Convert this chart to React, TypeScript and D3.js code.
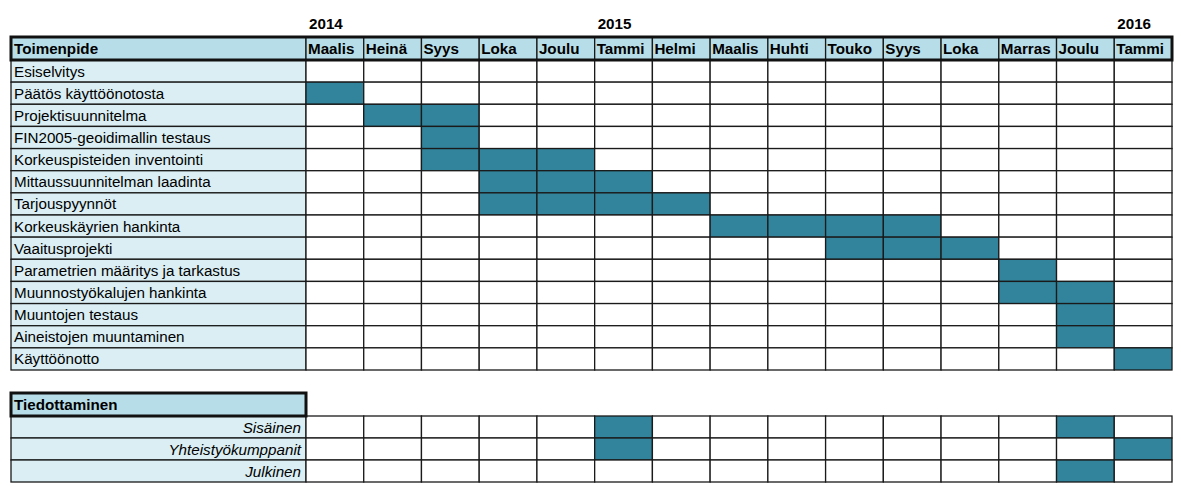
import React from "react";
import * as d3 from "d3";

const months = ["Maalis", "Heinä", "Syys", "Loka", "Joulu", "Tammi", "Helmi", "Maalis", "Huhti", "Touko", "Syys", "Loka", "Marras", "Joulu", "Tammi"];
const years = [
  { label: "2014", col: 0 },
  { label: "2015", col: 5 },
  { label: "2016", col: 14 },
];
const tasks = [
  "Esiselvitys",
  "Päätös käyttöönotosta",
  "Projektisuunnitelma",
  "FIN2005-geoidimallin testaus",
  "Korkeuspisteiden inventointi",
  "Mittaussuunnitelman laadinta",
  "Tarjouspyynnöt",
  "Korkeuskäyrien hankinta",
  "Vaaitusprojekti",
  "Parametrien määritys ja tarkastus",
  "Muunnostyökalujen hankinta",
  "Muuntojen testaus",
  "Aineistojen muuntaminen",
  "Käyttöönotto",
];
const taskActive: number[][] = [
  [],
  [0],
  [1, 2],
  [2],
  [2, 3, 4],
  [3, 4, 5],
  [3, 4, 5, 6],
  [7, 8, 9, 10],
  [9, 10, 11],
  [12],
  [12, 13],
  [13],
  [13],
  [14],
];
const commTitle = "Tiedottaminen";
const commItems = ["Sisäinen", "Yhteistyökumppanit", "Julkinen"];
const commActive: number[][] = [
  [5, 13],
  [5, 14],
  [13],
];
const headerTitle = "Toimenpide";

const TEAL = "#31849b";
const HEAD = "#b7dee8";
const LIGHT = "#daeef3";
const LINE = "#1a1a1a";
const FONT = "'Liberation Sans', Arial, sans-serif";
const FS = 15.2;

export default function App() {
  const W = 1181, H = 491;
  const labelX0 = 11, labelX1 = 306;
  const x = d3.scaleBand<number>().domain(months.map((_, i) => i)).range([306, 1172]).padding(0);
  const y = d3.scaleBand<string>().domain(tasks).range([60, 370]).padding(0);
  const yc = d3.scaleBand<string>().domain(commItems).range([416, 482]).padding(0);
  const headY0 = 37, headY1 = 60;
  const commHeadY0 = 393, commHeadY1 = 416;
  const bw = x.bandwidth();
  const sw = 1.3;

  const renderRows = (items: string[], ys: d3.ScaleBand<string>, active: number[][], italic: boolean) =>
    items.map((t, r) => {
      const yy = ys(t)!;
      const h = ys.bandwidth();
      return (
        <g key={t}>
          <rect x={labelX0} y={yy} width={labelX1 - labelX0} height={h} fill={LIGHT} stroke={LINE} strokeWidth={sw} />
          <text
            x={italic ? labelX1 - 5 : labelX0 + 3}
            y={yy + h / 2 + 5.5}
            fontSize={FS}
            fontStyle={italic ? "italic" : "normal"}
            textAnchor={italic ? "end" : "start"}
            fill="#000"
          >
            {t}
          </text>
          {months.map((_, c) => (
            <rect
              key={c}
              x={x(c)!}
              y={yy}
              width={bw}
              height={h}
              fill={active[r].includes(c) ? TEAL : "#fff"}
              stroke={LINE}
              strokeWidth={sw}
            />
          ))}
        </g>
      );
    });

  return (
    <svg width={W} height={H} style={{ position: "absolute", left: 0, top: 0, fontFamily: FONT }}>
      <rect width={W} height={H} fill="#fff" />
      {years.map((yr) => (
        <text key={yr.label} x={x(yr.col)! + 3} y={29} fontSize={FS} fontWeight="bold">
          {yr.label}
        </text>
      ))}
      {/* header row */}
      <rect x={labelX0} y={headY0} width={labelX1 - labelX0} height={headY1 - headY0} fill={HEAD} stroke={LINE} strokeWidth={sw} />
      <text x={labelX0 + 3} y={headY0 + 17} fontSize={FS} fontWeight="bold">{headerTitle}</text>
      {months.map((m, c) => (
        <g key={c}>
          <rect x={x(c)!} y={headY0} width={bw} height={headY1 - headY0} fill={HEAD} stroke={LINE} strokeWidth={sw} />
          <text x={x(c)! + 2} y={headY0 + 17} fontSize={FS} fontWeight="bold">{m}</text>
        </g>
      ))}
      {renderRows(tasks, y, taskActive, false)}
      <rect x={labelX0} y={headY0} width={1172 - labelX0} height={headY1 - headY0} fill="none" stroke="#111" strokeWidth={3} />

      {/* communication section */}
      {renderRows(commItems, yc, commActive, true)}
      <rect x={labelX0} y={commHeadY0} width={labelX1 - labelX0} height={commHeadY1 - commHeadY0} fill={HEAD} stroke="#111" strokeWidth={3} />
      <text x={labelX0 + 3} y={commHeadY0 + 17} fontSize={FS} fontWeight="bold">{commTitle}</text>
    </svg>
  );
}
